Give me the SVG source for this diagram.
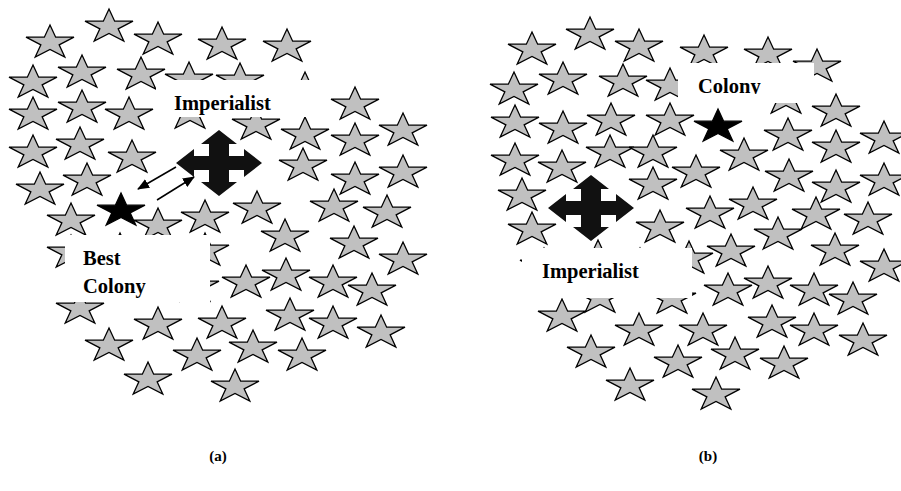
<svg xmlns="http://www.w3.org/2000/svg" xmlns:xlink="http://www.w3.org/1999/xlink" width="901" height="491" viewBox="0 0 901 491">
<style>
.st{fill:#c0c0c0;stroke:#000;stroke-width:1.3;stroke-linejoin:miter}
.bk{fill:#000;stroke:#000;stroke-width:1.3}
.cr{fill:#111}
.box{fill:#fff}
.lb{font-family:"Liberation Serif","Times New Roman",serif;font-weight:bold;font-size:20.5px;fill:#000}
.cap{font-family:"Liberation Serif","Times New Roman",serif;font-weight:bold;font-size:15px;fill:#000;text-anchor:middle}
.ar{stroke:#000;stroke-width:1.5;fill:none;marker-end:url(#ah)}
</style>
<defs>
<path id="s" d="M0,0 L5.66,12.2 L24,12.2 L9.15,19.8 L14.8,32 L0,24.5 L-14.8,32 L-9.15,19.8 L-24,12.2 L-5.66,12.2 Z"/>
<path id="x" d="M0,-33 L18,-19 L10,-19 L10,-7 L25,-7 L25,-14 L43,0 L25,14 L25,7 L10,7 L10,19 L18,19 L0,33 L-18,19 L-10,19 L-10,7 L-25,7 L-25,14 L-43,0 L-25,-14 L-25,-7 L-10,-7 L-10,-19 L-18,-19 Z"/>
<marker id="ah" viewBox="0 0 12 10" refX="11" refY="5" markerWidth="12" markerHeight="10" markerUnits="userSpaceOnUse" orient="auto">
<path d="M0,0 L12,5 L0,10 Z" fill="#000"/>
</marker>
<clipPath id="cc"><rect x="678" y="63" width="136" height="31"/></clipPath>
</defs>
<rect width="901" height="491" fill="#fff"/>

<g id="stars-a">
<use href="#s" class="st" x="50" y="25"/>
<use href="#s" class="st" x="109" y="9"/>
<use href="#s" class="st" x="158" y="22"/>
<use href="#s" class="st" x="222" y="27"/>
<use href="#s" class="st" x="287" y="29"/>
<use href="#s" class="st" x="33" y="65"/>
<use href="#s" class="st" x="82" y="55"/>
<use href="#s" class="st" x="141" y="57"/>
<use href="#s" class="st" x="189" y="62"/>
<use href="#s" class="st" x="240" y="63"/>
<use href="#s" class="st" x="305" y="72"/>
<use href="#s" class="st" x="33" y="97"/>
<use href="#s" class="st" x="82" y="90"/>
<use href="#s" class="st" x="129" y="97"/>
<use href="#s" class="st" x="190" y="96"/>
<use href="#s" class="st" x="355" y="87"/>
<use href="#s" class="st" x="33" y="135"/>
<use href="#s" class="st" x="80" y="127"/>
<use href="#s" class="st" x="132" y="140"/>
<use href="#s" class="st" x="256" y="107"/>
<use href="#s" class="st" x="305" y="117"/>
<use href="#s" class="st" x="355" y="123"/>
<use href="#s" class="st" x="403" y="113"/>
<use href="#s" class="st" x="40" y="172"/>
<use href="#s" class="st" x="87" y="163"/>
<use href="#s" class="st" x="303" y="148"/>
<use href="#s" class="st" x="355" y="162"/>
<use href="#s" class="st" x="403" y="155"/>
<use href="#s" class="st" x="71" y="203"/>
<use href="#s" class="st" x="158" y="208"/>
<use href="#s" class="st" x="205" y="200"/>
<use href="#s" class="st" x="257" y="191"/>
<use href="#s" class="st" x="334" y="189"/>
<use href="#s" class="st" x="387" y="195"/>
<use href="#s" class="st" x="285" y="219"/>
<use href="#s" class="st" x="354" y="226"/>
<use href="#s" class="st" x="403" y="242"/>
<use href="#s" class="st" x="71" y="235"/>
<use href="#s" class="st" x="120" y="233"/>
<use href="#s" class="st" x="205" y="233"/>
<use href="#s" class="st" x="195" y="269"/>
<use href="#s" class="st" x="246" y="265"/>
<use href="#s" class="st" x="286" y="258"/>
<use href="#s" class="st" x="333" y="265"/>
<use href="#s" class="st" x="372" y="273"/>
<use href="#s" class="st" x="80" y="291"/>
<use href="#s" class="st" x="158" y="307"/>
<use href="#s" class="st" x="222" y="306"/>
<use href="#s" class="st" x="290" y="298"/>
<use href="#s" class="st" x="333" y="306"/>
<use href="#s" class="st" x="381" y="315"/>
<use href="#s" class="st" x="109" y="328"/>
<use href="#s" class="st" x="197" y="338"/>
<use href="#s" class="st" x="253" y="330"/>
<use href="#s" class="st" x="302" y="338"/>
<use href="#s" class="st" x="148" y="362"/>
<use href="#s" class="st" x="235" y="369"/>
</g>

<g id="stars-b">
<use href="#s" class="st" x="532" y="32"/>
<use href="#s" class="st" x="590" y="17"/>
<use href="#s" class="st" x="639" y="29"/>
<use href="#s" class="st" x="704" y="35"/>
<use href="#s" class="st" x="768" y="37"/>
<use href="#s" class="st" x="817" y="49"/>
<use href="#s" class="st" x="514" y="72"/>
<use href="#s" class="st" x="563" y="62"/>
<use href="#s" class="st" x="623" y="64"/>
<use href="#s" class="st" x="670" y="68"/>
<use href="#s" class="st" x="786" y="81"/>
<use href="#s" class="st" x="836" y="94"/>
<use href="#s" class="st" x="515" y="105"/>
<use href="#s" class="st" x="563" y="111"/>
<use href="#s" class="st" x="611" y="103"/>
<use href="#s" class="st" x="670" y="103"/>
<use href="#s" class="st" x="788" y="118"/>
<use href="#s" class="st" x="836" y="130"/>
<use href="#s" class="st" x="884" y="121"/>
<use href="#s" class="st" x="515" y="143"/>
<use href="#s" class="st" x="562" y="150"/>
<use href="#s" class="st" x="610" y="135"/>
<use href="#s" class="st" x="653" y="135"/>
<use href="#s" class="st" x="744" y="138"/>
<use href="#s" class="st" x="696" y="155"/>
<use href="#s" class="st" x="789" y="159"/>
<use href="#s" class="st" x="836" y="170"/>
<use href="#s" class="st" x="884" y="163"/>
<use href="#s" class="st" x="522" y="178"/>
<use href="#s" class="st" x="653" y="167"/>
<use href="#s" class="st" x="710" y="196"/>
<use href="#s" class="st" x="753" y="187"/>
<use href="#s" class="st" x="816" y="197"/>
<use href="#s" class="st" x="868" y="202"/>
<use href="#s" class="st" x="532" y="212"/>
<use href="#s" class="st" x="660" y="210"/>
<use href="#s" class="st" x="778" y="217"/>
<use href="#s" class="st" x="689" y="241"/>
<use href="#s" class="st" x="731" y="234"/>
<use href="#s" class="st" x="835" y="233"/>
<use href="#s" class="st" x="884" y="249"/>
<use href="#s" class="st" x="544" y="248"/>
<use href="#s" class="st" x="598" y="240"/>
<use href="#s" class="st" x="640" y="248"/>
<use href="#s" class="st" x="728" y="273"/>
<use href="#s" class="st" x="768" y="266"/>
<use href="#s" class="st" x="814" y="273"/>
<use href="#s" class="st" x="853" y="282"/>
<use href="#s" class="st" x="600" y="280"/>
<use href="#s" class="st" x="672" y="281"/>
<use href="#s" class="st" x="562" y="299"/>
<use href="#s" class="st" x="639" y="313"/>
<use href="#s" class="st" x="703" y="313"/>
<use href="#s" class="st" x="772" y="305"/>
<use href="#s" class="st" x="814" y="313"/>
<use href="#s" class="st" x="863" y="323"/>
<use href="#s" class="st" x="591" y="335"/>
<use href="#s" class="st" x="678" y="345"/>
<use href="#s" class="st" x="735" y="337"/>
<use href="#s" class="st" x="784" y="346"/>
<use href="#s" class="st" x="630" y="368"/>
<use href="#s" class="st" x="716" y="377"/>
</g>

<g id="label-imperialist-a">
<rect class="box" x="156" y="80" width="174" height="37"/>
<text class="lb" x="174" y="110">Imperialist</text>
</g>
<g id="label-best-colony">
<rect class="box" x="65" y="235" width="145" height="67"/>
<text class="lb" x="83" y="265">Best</text>
<text class="lb" x="83" y="293">Colony</text>
</g>
<g id="label-imperialist-b">
<rect class="box" x="522" y="248" width="170" height="50"/>
<text class="lb" x="542" y="278">Imperialist</text>
</g>
<g id="label-colony">
<rect class="box" x="678" y="63" width="136" height="40"/>
<text class="lb" x="698" y="93" clip-path="url(#cc)">Colony</text>
</g>

<g id="imperialist-a">
<use href="#x" class="cr" x="219" y="163"/>
</g>
<g id="best-colony">
<use href="#s" class="bk" x="121" y="193"/>
</g>
<g id="imperialist-b">
<use href="#x" class="cr" x="591" y="208"/>
</g>
<g id="colony">
<use href="#s" class="bk" x="718" y="109"/>
</g>

<g id="connectors">
<line class="ar" x1="176" y1="167" x2="138" y2="189"/>
<line class="ar" x1="157" y1="200" x2="194" y2="177"/>
</g>

<g id="captions">
<text class="cap" x="218" y="461">(a)</text>
<text class="cap" x="708" y="461">(b)</text>
</g>
</svg>
